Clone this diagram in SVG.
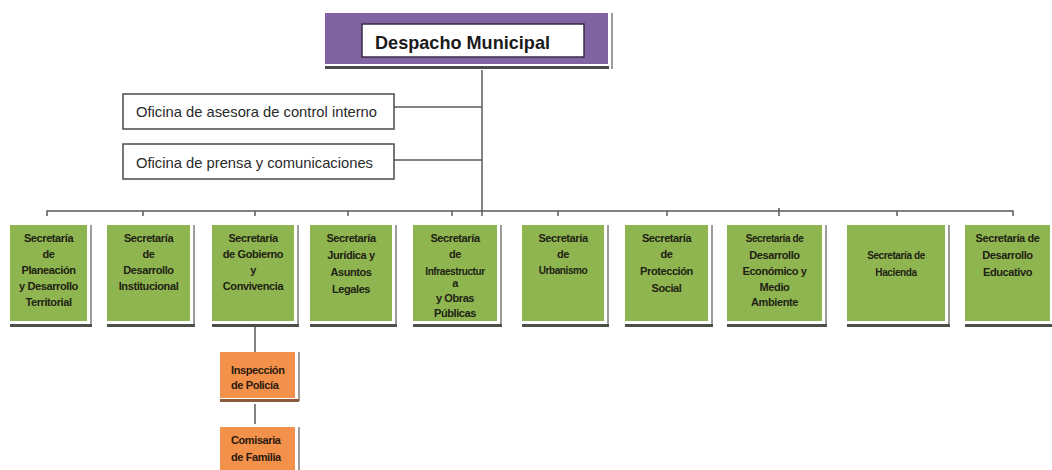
<svg xmlns="http://www.w3.org/2000/svg" width="1052" height="470" viewBox="0 0 1052 470">
<style>
.bg{fill:#ffffff}
.g{fill:#8fb550}
.o{fill:#f3914a}
.sh{stroke:#9c9c9c;stroke-width:2;fill:none}
.base{fill:#4d4f4a}
.obase{fill:#8a5a3c}
.t{font-family:"Liberation Sans",Arial,sans-serif;font-weight:bold;font-size:11px;fill:#1e2214;text-anchor:middle;letter-spacing:-0.4px}
.ts{font-size:10px}
.to{font-family:"Liberation Sans",Arial,sans-serif;font-weight:bold;font-size:11px;fill:#2a1a10;letter-spacing:-0.4px}
.conn{stroke:#5a5a5a;stroke-width:1.5;fill:none}
.box{fill:#ffffff;stroke:#4a4a4a;stroke-width:1.5}
.ot{font-family:"Liberation Sans",Arial,sans-serif;font-size:15px;fill:#2a2a2a}
</style>
<rect class="bg" x="0" y="0" width="1052" height="470"/>

<g id="connectors">
  <path class="conn" d="M482,70 V216"/>
  <path class="conn" d="M394,107 H482"/>
  <path class="conn" d="M394,160 H482"/>
  <path class="conn" d="M47,216 V211 H1013 V216"/>
  <path class="conn" d="M143,211 V216 M255,211 V216 M348,211 V216 M452,211 V216 M558,211 V216 M667,211 V216 M779,208 V216 M897,211 V216"/>
  <path class="conn" d="M255,327 V352"/>
  <path class="conn" d="M255,404 V424"/>
</g>

<g id="despacho">
  <rect x="325" y="13" width="283" height="51" fill="#8064a2"/>
  <rect x="325" y="66" width="284" height="3" fill="#4a4a4a"/>
  <line class="sh" x1="612" y1="13" x2="612" y2="69"/>
  <rect x="362" y="24" width="222" height="33" fill="#ffffff" stroke="#3a2a4a" stroke-width="1.5"/>
  <text x="375" y="49" font-family="'Liberation Sans',Arial,sans-serif" font-weight="bold" font-size="19" fill="#1a1a1a" textLength="175" lengthAdjust="spacingAndGlyphs">Despacho Municipal</text>
</g>

<g id="oficina-control">
  <rect class="box" x="123" y="94" width="271" height="35"/>
  <text class="ot" x="136" y="117" textLength="241" lengthAdjust="spacingAndGlyphs">Oficina de asesora de control interno</text>
</g>

<g id="oficina-prensa">
  <rect class="box" x="123" y="144" width="271" height="35"/>
  <text class="ot" x="136" y="168" textLength="237" lengthAdjust="spacingAndGlyphs">Oficina de prensa y comunicaciones</text>
</g>

<g id="sec-planeacion">
  <rect class="g" x="10" y="225" width="77" height="96"/>
  <line class="sh" x1="91" y1="225" x2="91" y2="326"/>
  <rect class="base" x="10" y="324" width="82" height="3"/>
  <text class="t" x="48.5" y="242">Secretaría</text>
  <text class="t" x="48.5" y="258">de</text>
  <text class="t" x="48.5" y="274">Planeación</text>
  <text class="t" x="48.5" y="290">y Desarrollo</text>
  <text class="t" x="48.5" y="306">Territorial</text>
</g>

<g id="sec-institucional">
  <rect class="g" x="107" y="225" width="83" height="96"/>
  <line class="sh" x1="194" y1="225" x2="194" y2="326"/>
  <rect class="base" x="107" y="324" width="88" height="3"/>
  <text class="t" x="148.5" y="242">Secretaría</text>
  <text class="t" x="148.5" y="258">de</text>
  <text class="t" x="148.5" y="274">Desarrollo</text>
  <text class="t" x="148.5" y="290">Institucional</text>
</g>

<g id="sec-gobierno">
  <rect class="g" x="212" y="225" width="82" height="96"/>
  <line class="sh" x1="298" y1="225" x2="298" y2="326"/>
  <rect class="base" x="212" y="324" width="87" height="3"/>
  <text class="t" x="253" y="242">Secretaría</text>
  <text class="t" x="253" y="258">de Gobierno</text>
  <text class="t" x="253" y="274">y</text>
  <text class="t" x="253" y="290">Convivencia</text>
</g>

<g id="sec-juridica">
  <rect class="g" x="310" y="225" width="82" height="96"/>
  <line class="sh" x1="396" y1="225" x2="396" y2="326"/>
  <rect class="base" x="310" y="324" width="87" height="3"/>
  <text class="t" x="351" y="242">Secretaría</text>
  <text class="t" x="351" y="259">Jurídica y</text>
  <text class="t" x="351" y="276">Asuntos</text>
  <text class="t" x="351" y="293">Legales</text>
</g>

<g id="sec-infraestructura">
  <rect class="g" x="413" y="225" width="84" height="96"/>
  <line class="sh" x1="501" y1="225" x2="501" y2="326"/>
  <rect class="base" x="413" y="324" width="89" height="3"/>
  <text class="t" x="455" y="242">Secretaría</text>
  <text class="t" x="455" y="258">de</text>
  <text class="t ts" x="455" y="275">Infraestructur</text>
  <text class="t" x="455" y="287">a</text>
  <text class="t" x="455" y="302">y Obras</text>
  <text class="t" x="455" y="317">Públicas</text>
</g>

<g id="sec-urbanismo">
  <rect class="g" x="522" y="225" width="82" height="96"/>
  <line class="sh" x1="608" y1="225" x2="608" y2="326"/>
  <rect class="base" x="522" y="324" width="87" height="3"/>
  <text class="t" x="563" y="242">Secretaría</text>
  <text class="t" x="563" y="258">de</text>
  <text class="t ts" x="563" y="274">Urbanismo</text>
</g>

<g id="sec-proteccion">
  <rect class="g" x="625" y="225" width="83" height="96"/>
  <line class="sh" x1="712" y1="225" x2="712" y2="326"/>
  <rect class="base" x="625" y="324" width="88" height="3"/>
  <text class="t" x="666.5" y="242">Secretaría</text>
  <text class="t" x="666.5" y="258">de</text>
  <text class="t" x="666.5" y="275">Protección</text>
  <text class="t" x="666.5" y="292">Social</text>
</g>

<g id="sec-economico">
  <rect class="g" x="727" y="225" width="95" height="96"/>
  <line class="sh" x1="826" y1="225" x2="826" y2="326"/>
  <rect class="base" x="727" y="324" width="100" height="3"/>
  <text class="t ts" x="774.5" y="242">Secretaría de</text>
  <text class="t" x="774.5" y="259">Desarrollo</text>
  <text class="t" x="774.5" y="275">Económico y</text>
  <text class="t" x="774.5" y="291">Medio</text>
  <text class="t" x="774.5" y="306">Ambiente</text>
</g>

<g id="sec-hacienda">
  <rect class="g" x="847" y="225" width="98" height="96"/>
  <line class="sh" x1="949" y1="225" x2="949" y2="326"/>
  <rect class="base" x="847" y="324" width="103" height="3"/>
  <text class="t ts" x="896" y="259">Secretaría de</text>
  <text class="t ts" x="896" y="276">Hacienda</text>
</g>

<g id="sec-educativo">
  <rect class="g" x="965" y="225" width="85" height="96"/>
  <rect class="base" x="965" y="324" width="87" height="3"/>
  <text class="t" x="1007.5" y="242">Secretaría de</text>
  <text class="t" x="1007.5" y="259">Desarrollo</text>
  <text class="t" x="1007.5" y="276">Educativo</text>
</g>

<g id="inspeccion-policia">
  <rect class="o" x="220" y="352" width="75" height="46"/>
  <line class="sh" x1="299" y1="352" x2="299" y2="401"/>
  <rect class="obase" x="220" y="399" width="79" height="3"/>
  <text class="to" x="231" y="374">Inspección</text>
  <text class="to" x="231" y="389">de Policía</text>
</g>

<g id="comisaria-familia">
  <rect class="o" x="220" y="427" width="75" height="43"/>
  <line class="sh" x1="299" y1="427" x2="299" y2="470"/>
  <text class="to" x="231" y="444">Comisaria</text>
  <text class="to" x="231" y="461">de Familia</text>
</g>
</svg>
